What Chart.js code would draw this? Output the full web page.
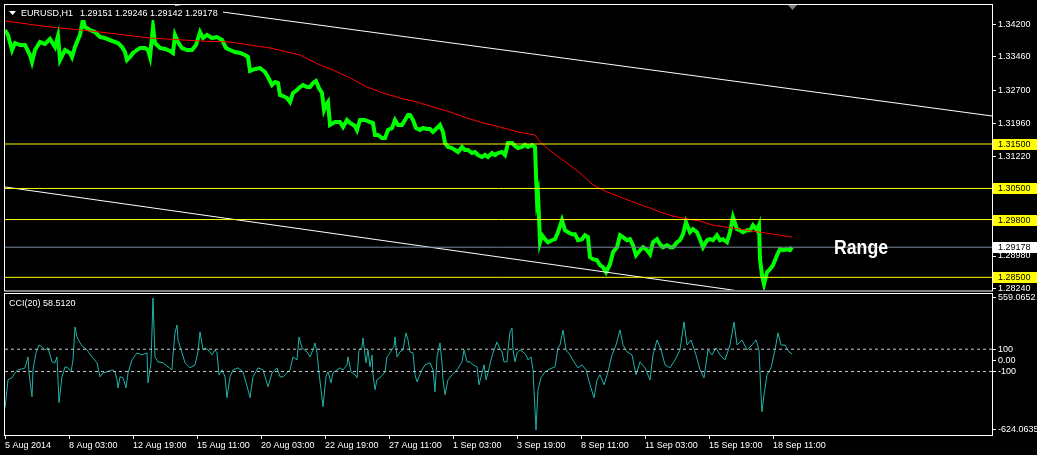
<!DOCTYPE html>
<html>
<head>
<meta charset="utf-8">
<script src="https://cdn.jsdelivr.net/npm/chart.js@4.4.1/dist/chart.umd.min.js"></script>
<style>
  html, body { margin: 0; padding: 0; background: #000; }
  #wrap { position: relative; width: 1037px; height: 455px; background: #000; overflow: hidden; }
  #priceChart { position: absolute; left: 0; top: 0; }
  #cciChart { position: absolute; left: 0; top: 293px; }
</style>
</head>
<body>
<div id="wrap">
  <canvas id="priceChart" width="1037" height="293"></canvas>
  <canvas id="cciChart" width="1037" height="162"></canvas>
</div>
<script>
// ---- data (x = bar number, one H1 bar per pixel) ----
const X_MAX = 987;

const timeTickBars = [0, 64, 128, 192, 256, 320, 384, 448, 512, 576, 640, 704, 768];
const timeLabels = ['5 Aug 2014', '8 Aug 03:00', '12 Aug 19:00', '15 Aug 11:00', '20 Aug 03:00',
  '22 Aug 19:00', '27 Aug 11:00', '1 Sep 03:00', '3 Sep 19:00', '8 Sep 11:00',
  '11 Sep 03:00', '15 Sep 19:00', '18 Sep 11:00'];

const priceTicks = [1.342, 1.3346, 1.327, 1.3196, 1.3122, 1.3048, 1.2974, 1.2898, 1.2824];
const levels = [1.3150, 1.3050, 1.2980, 1.2850];
const bid = 1.29178;
const ohlc = ['1.29151', '1.29246', '1.29142', '1.29178'];

const priceBars = [0,3,7,10,15,20,25,27,30,35,40,45,50,53,55,60,65,67,70,72,75,78,80,85,90,95,100,105,110,113,
  117,120,122,125,128,132,135,140,143,145,148,150,155,160,165,168,170,173,177,182,187,191,195,198,202,207,212,217,221,225,
  230,235,240,243,245,250,255,260,263,267,270,273,275,278,282,285,288,292,295,298,302,305,308,311,314,317,319,321,323,325,
  330,335,338,342,345,350,352,355,360,365,368,370,373,377,380,383,387,390,393,397,400,403,405,408,411,415,418,422,425,428,
  432,435,438,440,443,447,450,453,457,460,463,467,470,473,477,480,483,487,490,493,497,500,503,507,510,513,517,520,523,527,
  530,531,532,533,534,535,537,540,543,547,550,553,557,560,563,567,570,573,577,580,583,585,588,592,595,598,601,605,608,612,
  615,618,622,625,628,631,635,638,642,645,648,652,655,658,662,665,668,672,675,678,681,685,688,692,695,698,702,705,708,712,
  715,718,722,725,728,732,735,738,742,745,748,752,754,755,757,759,762,765,768,772,775,778,782,785,787];
const closePrices = [1.34065,1.33953,1.33615,1.33773,1.33728,1.33728,1.33503,1.33345,1.33615,1.33795,1.33750,1.33863,1.33683,1.33930,1.33390,
  1.33615,1.33548,1.33458,1.33683,1.33795,1.33953,1.34313,1.34133,1.34065,1.34020,1.33908,1.33885,1.33840,1.33795,1.33773,
  1.33683,1.33570,1.33390,1.33458,1.33548,1.33615,1.33660,1.33660,1.33615,1.33458,1.34133,1.33773,1.33660,1.33638,1.33593,
  1.33548,1.33953,1.33795,1.33660,1.33615,1.33615,1.33728,1.34020,1.33885,1.33953,1.33885,1.33908,1.33840,1.33660,1.33615,
  1.33570,1.33548,1.33503,1.33458,1.33143,1.33188,1.33210,1.33120,1.33008,1.32828,1.32895,1.32873,1.32603,1.32580,1.32535,
  1.32445,1.32648,1.32715,1.32783,1.32828,1.32783,1.32783,1.32873,1.32918,1.32760,1.32648,1.32265,1.32378,1.32445,1.31928,
  1.31995,1.31995,1.31883,1.32040,1.31973,1.31905,1.31815,1.32040,1.32040,1.31995,1.31973,1.31703,1.31703,1.31635,1.31635,
  1.31815,1.31860,1.32040,1.31928,1.31928,1.32040,1.32153,1.32153,1.32040,1.31860,1.31815,1.31860,1.31838,1.31838,1.31770,
  1.31860,1.31928,1.31770,1.31523,1.31433,1.31410,1.31365,1.31320,1.31433,1.31365,1.31365,1.31298,1.31320,1.31253,1.31208,
  1.31253,1.31208,1.31298,1.31253,1.31298,1.31320,1.31253,1.31523,1.31523,1.31455,1.31410,1.31433,1.31478,1.31433,1.31478,
  1.31433,1.30803,1.30240,1.30353,1.29853,1.29290,1.29448,1.29358,1.29290,1.29335,1.29358,1.29515,1.29785,1.29560,1.29515,
  1.29470,1.29470,1.29335,1.29358,1.29448,1.29403,1.28953,1.28908,1.28885,1.28773,1.28728,1.28615,1.28795,1.29065,1.29178,
  1.29448,1.29403,1.29335,1.29358,1.29223,1.28998,1.29110,1.29178,1.29110,1.29020,1.29290,1.29358,1.29245,1.29178,1.29223,
  1.29178,1.29178,1.29290,1.29335,1.29470,1.29740,1.29515,1.29583,1.29515,1.29358,1.29178,1.29335,1.29358,1.29335,1.29448,
  1.29335,1.29358,1.29290,1.29515,1.29853,1.29583,1.29560,1.29515,1.29560,1.29560,1.29673,1.29560,1.29673,1.28908,1.28548,
  1.28345,1.28615,1.28683,1.28773,1.28998,1.29133,1.29110,1.29133,1.29110,1.29178];

const maBars = [0,45,95,145,195,225,245,265,295,313,328,345,362,378,395,412,428,445,462,478,495,515,530,535,548,562,575,
  588,602,615,628,642,655,668,682,695,708,722,735,748,762,775,787];
const maPrices = [1.34268,1.34133,1.34020,1.33885,1.33818,1.33795,1.33728,1.33660,1.33503,1.33300,1.33165,1.32985,1.32783,
  1.32648,1.32535,1.32445,1.32333,1.32220,1.32085,1.31973,1.31883,1.31760,1.31703,1.31545,1.31298,1.31073,1.30848,
  1.30578,1.30420,1.30308,1.30195,1.30083,1.29970,1.29880,1.29813,1.29768,1.29673,1.29628,1.29583,1.29538,1.29493,
  1.29448,1.29403];

const trendUpBars = [170, 987];
const trendUpPrices = [1.34614, 1.32130];
const trendDownBars = [0, 760];
const trendDownPrices = [1.30533, 1.28110];

const cciTicks = [559.0652, 100, 0, -100, -624.0635];
const cciTickText = ['559.0652', '100', '0.00', '-100', '-624.0635'];
const cciLevels = [100, -100];
const cciBars = [0,2,3,7,10,13,17,20,23,24,27,28,31,34,37,40,43,47,50,52,54,57,60,63,66,68,70,72,75,78,82,87,92,95,98,
  102,107,110,112,113,115,118,121,123,127,132,137,142,143,146,148,150,153,158,163,167,168,170,172,173,177,180,185,190,193,
  195,198,200,203,207,210,212,214,217,220,222,225,228,233,238,243,245,248,253,258,263,267,272,275,278,283,285,288,292,294,
  297,302,305,308,310,312,314,316,318,321,323,326,328,332,335,338,342,343,346,350,352,354,357,358,361,363,365,367,368,370,
  372,376,380,382,385,388,389,390,392,395,398,401,403,405,408,410,412,414,417,420,425,428,430,432,435,437,438,440,443,447,
  452,457,459,462,465,468,472,474,477,479,481,483,486,488,492,494,497,499,502,503,505,507,508,510,512,515,518,521,523,526,
  528,529,531,533,536,540,545,550,553,555,558,561,565,569,573,577,581,585,589,592,595,599,603,607,611,615,618,622,627,631,
  635,640,645,648,652,656,660,665,670,675,679,682,686,691,695,699,703,707,711,715,720,725,729,732,737,742,747,751,754,756,
  757,759,762,766,770,773,776,780,784,787];
const cciValues = [-424,-263,-174,-156,-112,-85,-76,-67,31,-112,-326,-85,67,138,121,94,112,-13,-22,31,-380,-147,-58,-67,
  -103,4,299,210,156,121,94,31,-22,-147,-112,-103,-85,-103,-174,-246,-147,-156,-246,-112,4,67,49,67,-201,-22,559.0652,31,
  -13,-22,-58,-85,49,246,317,183,67,-22,-67,-40,76,255,94,112,94,49,94,67,-129,-85,-147,-335,-147,-85,-67,-103,-263,-335,
  -147,-67,-85,-237,-112,-67,-147,-147,-103,-85,31,4,210,112,76,31,94,156,67,-112,-263,-415,-147,-103,-201,-112,-85,-67,
  -85,-40,31,-103,-129,-156,94,121,201,-22,94,-58,49,-129,-263,-174,-147,-103,31,67,112,121,210,31,76,94,246,183,76,67,
  -129,-192,-147,-85,-40,-22,-85,-281,31,156,-22,-174,-308,-174,-129,-85,-13,94,-13,-13,-40,-58,-219,-112,-40,-174,-112,
  4,67,165,121,76,-13,-13,94,255,290,94,-13,67,94,76,49,4,31,-85,-263,-624.0635,-263,-156,-103,-76,-58,112,138,272,94,
  49,-13,-67,-40,-85,-219,-335,-174,-129,-219,-103,49,138,272,138,76,49,-129,-13,-67,-174,49,183,94,-40,-67,4,94,344,
  138,183,49,-85,-156,94,49,112,49,4,138,344,138,183,94,138,183,94,-308,-460,-308,-129,-67,94,246,138,138,76,58.512];
const cciNow = '58.5120';

// ---- chart setup ----
const FONT = "'Liberation Sans', Arial, sans-serif";
Chart.defaults.font.family = FONT;
Chart.defaults.font.size = 9;
Chart.defaults.color = '#ffffff';
Chart.defaults.animation = false;

const pts = (xs, ys) => xs.map((x, i) => ({ x: x, y: ys[i] }));
const hline = v => [{ x: 0, y: v }, { x: X_MAX, y: v }];

// price panel range matches the MT4 window (1.28215 .. 1.34628)
const PRICE_MIN = 1.28215, PRICE_MAX = 1.34628;
// cci panel: data min/max sit a few pixels inside the frame
const CCI_MIN = -668.9, CCI_MAX = 594.9;

const priceDecor = {
  id: 'priceDecor',
  afterDraw(chart) {
    const { ctx, chartArea: a, scales } = chart;
    const y = scales.y, x = scales.x;
    ctx.save();
    // frame
    ctx.strokeStyle = '#ffffff';
    ctx.lineWidth = 1;
    ctx.strokeRect(a.left - 0.5, a.top - 0.5, a.right - a.left + 1, a.bottom - a.top + 1.5);

    // highlighted price labels
    ctx.font = '9px ' + FONT;
    ctx.textBaseline = 'middle';
    ctx.textAlign = 'left';
    const tag = (v, bg) => {
      const py = Math.round(y.getPixelForValue(v));
      ctx.fillStyle = bg;
      ctx.fillRect(a.right + 1, py - 5, 44, 11);
      ctx.fillStyle = '#000';
      ctx.fillText(v.toFixed(5), a.right + 6, py + 0.5);
    };
    levels.forEach(v => tag(v, '#ffff00'));
    tag(bid, '#ffffff');

    // header
    ctx.fillStyle = '#000';
    ctx.fillRect(a.left, a.top + 1, 218, 14);
    ctx.fillStyle = '#ffffff';
    ctx.beginPath();
    ctx.moveTo(9, 11); ctx.lineTo(16, 11); ctx.lineTo(12.5, 15); ctx.closePath();
    ctx.fill();
    ctx.textBaseline = 'alphabetic';
    ctx.fillText('EURUSD,H1', 21, 16);
    ctx.fillText(ohlc.join(' '), 80, 16);

    // chart shift marker
    const sx = x.getPixelForValue(787);
    ctx.fillStyle = '#808080';
    ctx.beginPath();
    ctx.moveTo(sx - 4, a.top); ctx.lineTo(sx + 5, a.top); ctx.lineTo(sx + 0.5, a.top + 5); ctx.closePath();
    ctx.fill();

    // "Range" note
    ctx.fillStyle = '#ffffff';
    ctx.font = 'bold 20px ' + FONT;
    ctx.textBaseline = 'middle';
    const w = ctx.measureText('Range').width;
    ctx.translate(861, y.getPixelForValue(bid) + 1);
    ctx.scale(54 / w, 1);
    ctx.textAlign = 'center';
    ctx.fillText('Range', 0, 0);
    ctx.restore();
  }
};

const cciDecor = {
  id: 'cciDecor',
  afterDraw(chart) {
    const { ctx, chartArea: a } = chart;
    ctx.save();
    ctx.strokeStyle = '#ffffff';
    ctx.lineWidth = 1;
    ctx.strokeRect(a.left - 0.5, 0.5, a.right - a.left + 1, a.bottom);
    ctx.fillStyle = '#ffffff';
    ctx.font = '9px ' + FONT;
    ctx.textBaseline = 'alphabetic';
    ctx.fillText('CCI(20) ' + cciNow, 9, 13);
    ctx.restore();
  }
};

new Chart(document.getElementById('priceChart'), {
  type: 'line',
  data: {
    datasets: [
      ...levels.map(v => ({ data: hline(v), borderColor: '#ffff00', borderWidth: 1 })),
      { data: hline(bid), borderColor: '#778899', borderWidth: 1 },
      { data: pts(trendUpBars, trendUpPrices), borderColor: '#ffffff', borderWidth: 1 },
      { data: pts(trendDownBars, trendDownPrices), borderColor: '#ffffff', borderWidth: 1 },
      { data: pts(maBars, maPrices), borderColor: '#ff0000', borderWidth: 1 },
      { data: pts(priceBars, closePrices), borderColor: '#00ff00', borderWidth: 4, borderJoinStyle: 'miter' }
    ]
  },
  options: {
    responsive: false,
    layout: { padding: { left: 5, top: 5, right: 0, bottom: 3 } },
    elements: { point: { radius: 0 }, line: { tension: 0 } },
    plugins: { legend: { display: false }, tooltip: { enabled: false } },
    scales: {
      x: { type: 'linear', min: 0, max: X_MAX, display: false },
      y: {
        position: 'right', min: PRICE_MIN, max: PRICE_MAX,
        afterBuildTicks: s => { s.ticks = priceTicks.map(v => ({ value: v })); },
        afterFit: s => { s.width = 45; s.paddingTop = 0; s.paddingBottom = 0; },
        grid: { drawOnChartArea: false, color: '#ffffff', tickLength: 4 },
        border: { display: false },
        ticks: { padding: 2, color: '#ffffff', autoSkip: false, callback: v => v.toFixed(5) }
      }
    }
  },
  plugins: [priceDecor]
});

new Chart(document.getElementById('cciChart'), {
  type: 'line',
  data: {
    datasets: [
      ...cciLevels.map(v => ({ data: hline(v), borderColor: '#c8c8c8', borderWidth: 1, borderDash: [3, 3] })),
      { data: pts(cciBars, cciValues), borderColor: '#20b2aa', borderWidth: 1 }
    ]
  },
  options: {
    responsive: false,
    layout: { padding: { left: 5, top: 1, right: 0, bottom: 0 } },
    elements: { point: { radius: 0 }, line: { tension: 0 } },
    plugins: { legend: { display: false }, tooltip: { enabled: false } },
    scales: {
      x: {
        type: 'linear', min: 0, max: X_MAX, position: 'bottom',
        afterBuildTicks: s => { s.ticks = timeTickBars.map(v => ({ value: v })); },
        afterFit: s => { s.height = 20; s.paddingLeft = 0; s.paddingRight = 0; },
        grid: { drawOnChartArea: false, color: '#ffffff', tickLength: 4 },
        border: { display: false },
        ticks: { align: 'start', padding: 1, maxRotation: 0, autoSkip: false, color: '#ffffff',
          callback: (v, i) => timeLabels[i] }
      },
      y: {
        position: 'right', min: CCI_MIN, max: CCI_MAX,
        afterBuildTicks: s => { s.ticks = cciTicks.map(v => ({ value: v })); },
        afterFit: s => { s.width = 45; s.paddingTop = 0; s.paddingBottom = 0; },
        grid: { drawOnChartArea: false, color: '#ffffff', tickLength: 4 },
        border: { display: false },
        ticks: { padding: 2, color: '#ffffff', autoSkip: false, callback: (v, i) => cciTickText[i] }
      }
    }
  },
  plugins: [cciDecor]
});
</script>
</body>
</html>
